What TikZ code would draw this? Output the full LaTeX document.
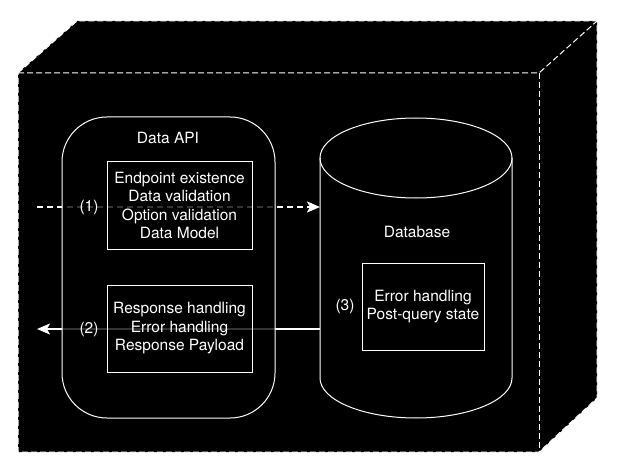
\documentclass[tikz,border=0pt]{standalone}
\usepackage{fontspec}
\setmainfont{TeX Gyre Heros}
\usetikzlibrary{arrows.meta}
\pgfdeclarelayer{cubelayer}
\pgfdeclarelayer{arrowlayer}
\pgfsetlayers{cubelayer,arrowlayer,main}
\tikzset{
  cubeedge/.style={draw=white, line width=1pt, dash pattern=on 6pt off 3pt},
  apibox/.style={draw=white, line width=1pt, fill=black, fill opacity=0.8, text opacity=1,
    rounded corners=45pt, minimum width=213pt, minimum height=301pt, inner sep=0pt},
  stepbox/.style={draw=white, line width=1pt, text=white, align=center,
    inner sep=0pt, font=\fontsize{15.5pt}{18.5pt}\selectfont},
  lbl/.style={text=white, inner sep=1pt, font=\fontsize{15.5pt}{18.5pt}\selectfont},
  dasharrow/.style={draw=white, line width=2pt, dash pattern=on 6pt off 4pt,
    -{Stealth[length=13pt, width=11pt, inset=3pt]}},
  solidarrow/.style={draw=white, line width=2pt,
    -{Stealth[length=13pt, width=11pt, inset=3pt]}},
  cylline/.style={draw=white, line width=1pt}
}
\begin{document}
\begin{tikzpicture}[x=1pt, y=-1pt]
\useasboundingbox (0,0) rectangle (624,468);
% cube
\begin{pgfonlayer}{cubelayer}
  \fill[black] (18,73) -- (77,21) -- (597,21) -- (597,398) -- (539,452) -- (18,452) -- cycle;
  \draw[cubeedge] (18,73) -- (77,21) -- (597,21) -- (597,398) -- (539,452) -- (18,452) -- cycle;
  \draw[cubeedge] (18,73) -- (539,73) -- (597,21);
  \draw[cubeedge] (539,73) -- (539,452);
\end{pgfonlayer}
% coordinates
\coordinate (in1) at (37,207);
\coordinate (dbw1) at (320,207);
\coordinate (dbw2) at (320,329);
\coordinate (out2) at (37,329);
% Data API
\node[apibox] (api) at (168.5,267.5) {};
\node[lbl] (apititle) at (168,138) {Data API};
\node[stepbox, minimum width=145pt, minimum height=87pt] (box1) at (179.5,205.5)
  {Endpoint existence\\Data validation\\Option validation\\Data Model};
\node[stepbox, minimum width=145pt, minimum height=87pt] (box2) at (179.5,328.5)
  {Response handling\\Error handling\\Response Payload};
\node[lbl] (l1) at (89,207) {(1)};
\node[lbl] (l2) at (89,329) {(2)};
% Database cylinder
\draw[cylline] (320,158) -- (320,378) arc[start angle=180, end angle=360, x radius=96pt, y radius=40pt] -- (512,158);
\draw[cylline] (416,158) ellipse[x radius=96pt, y radius=40pt];
\node[lbl] (dbtitle) at (417,232) {Database};
\node[stepbox, minimum width=122pt, minimum height=87pt] (box3) at (423,306.5)
  {Error handling\\Post-query state};
\node[lbl] (l3) at (345,306) {(3)};
% arrows
\begin{pgfonlayer}{arrowlayer}
  \draw[dasharrow] (in1) -- (dbw1);
  \draw[solidarrow] (dbw2) -- (out2);
\end{pgfonlayer}
\end{tikzpicture}
\end{document}
